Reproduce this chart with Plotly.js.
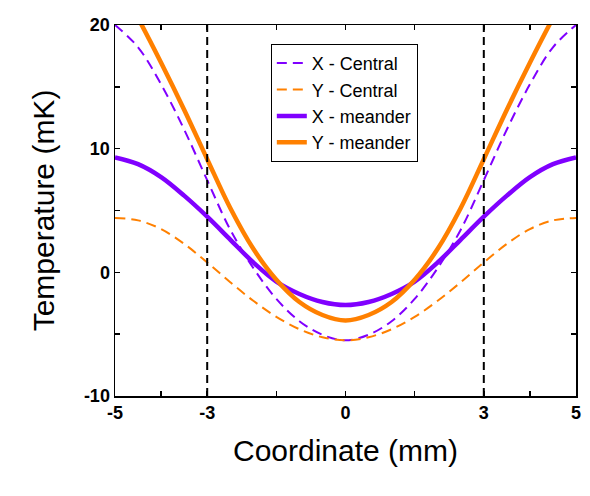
<!DOCTYPE html>
<html>
<head>
<meta charset="utf-8">
<script src="https://cdn.plot.ly/plotly-3.0.1.min.js"></script>
<style>
  html, body { margin: 0; padding: 0; background: #ffffff; }
  #chart { width: 590px; height: 496px; }
</style>
</head>
<body>
<div id="chart"></div>
<script>
// Coordinate (mm)
const coord = [-5, -4.5, -4, -3.5, -3, -2.5, -2, -1.5, -1, -0.5, 0, 0.5, 1, 1.5, 2, 2.5, 3, 3.5, 4, 4.5, 5];
// Temperature (mK) series
const xCentral = [20.0, 18.2, 15.2, 11.55, 7.45, 3.45, 0.35, -2.15, -3.95, -5.05, -5.5, -5.05, -3.95, -2.15, 0.35, 3.45, 7.45, 11.55, 15.2, 18.2, 20.0];
const yCentral = [4.4, 4.2, 3.5, 2.3, 0.8, -0.8, -2.3, -3.6, -4.6, -5.25, -5.5, -5.25, -4.6, -3.6, -2.3, -0.8, 0.8, 2.3, 3.5, 4.2, 4.4];
const xMeander = [9.3, 8.75, 7.7, 6.2, 4.5, 2.65, 0.8, -0.75, -1.75, -2.4, -2.65, -2.4, -1.75, -0.75, 0.8, 2.65, 4.5, 6.2, 7.7, 8.75, 9.3];
const yMeander = [23.85, 20.55, 16.95, 13.15, 9.15, 5.2, 1.9, -0.6, -2.4, -3.45, -3.9, -3.45, -2.4, -0.6, 1.9, 5.2, 9.15, 13.15, 16.95, 20.55, 23.85];
// Vertical reference lines
const refLines = [-3, 3];
// Axis ticks
const xTickVals = [-5, -4, -3, -1.5, 0, 1.5, 3, 4, 5];
const xTickText = ['-5', '', '-3', '', '0', '', '3', '', '5'];
const yTickVals = [-10, -5, 0, 5, 10, 15, 20];
const yTickText = ['-10', '', '0', '', '10', '', '20'];

const PURPLE = '#8000ff';
const ORANGE = '#ff8000';
const FONT = 'Arial, "Liberation Sans", sans-serif';

const traces = [
  { x: coord, y: xCentral, name: 'X - Central', mode: 'lines',
    line: { color: PURPLE, width: 2, dash: '10px,6px', shape: 'spline', smoothing: 1 } },
  { x: coord, y: yCentral, name: 'Y - Central', mode: 'lines',
    line: { color: ORANGE, width: 2, dash: '10px,6px', shape: 'spline', smoothing: 1 } },
  { x: coord, y: xMeander, name: 'X - meander', mode: 'lines',
    line: { color: PURPLE, width: 4.5, shape: 'spline', smoothing: 1 } },
  { x: coord, y: yMeander, name: 'Y - meander', mode: 'lines',
    line: { color: ORANGE, width: 4.5, shape: 'spline', smoothing: 1 } }
];

const shapes = refLines.map(v => ({
  type: 'line', xref: 'x', yref: 'paper', x0: v, x1: v, y0: 0, y1: 1,
  line: { color: '#000000', width: 2, dash: '8px,5px' }, layer: 'above'
}));

const axisCommon = {
  showline: true, linecolor: '#000000', linewidth: 1.5, mirror: 'allticks',
  ticks: 'inside', ticklen: 5, tickwidth: 1.5, tickcolor: '#000000',
  showgrid: false, zeroline: false, tickmode: 'array',
  tickfont: { family: FONT, size: 18, color: '#000000', weight: 'bold' }
};

const layout = {
  width: 590, height: 496,
  margin: { l: 115, r: 14, t: 25, b: 100 },
  paper_bgcolor: '#ffffff', plot_bgcolor: '#ffffff',
  font: { family: FONT, color: '#000000' },
  showlegend: true,
  legend: {
    x: 0.338, y: 0.949, xanchor: 'left', yanchor: 'top',
    bgcolor: '#ffffff', bordercolor: '#000000', borderwidth: 1,
    font: { family: FONT, size: 18, color: '#000000' },
    tracegroupgap: 0, itemsizing: 'trace'
  },
  xaxis: Object.assign({}, axisCommon, {
    range: [-5, 5], tickvals: xTickVals, ticktext: xTickText,
    title: { text: 'Coordinate (mm)', font: { family: FONT, size: 30, color: '#000000' }, standoff: 18 }
  }),
  yaxis: Object.assign({}, axisCommon, {
    range: [-10, 20], tickvals: yTickVals, ticktext: yTickText,
    title: { text: 'Temperature (mK)', font: { family: FONT, size: 30, color: '#000000' }, standoff: 20 }
  }),
  shapes: shapes
};

Plotly.newPlot('chart', traces, layout, { displayModeBar: false, staticPlot: true });
</script>
</body>
</html>
